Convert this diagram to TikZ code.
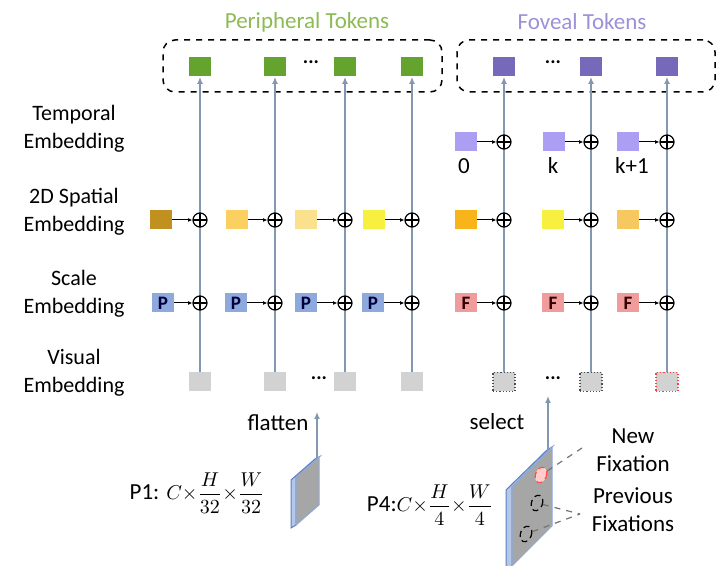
\documentclass[tikz,border=0pt]{standalone}
\usepackage{fontspec}
\setmainfont{Carlito}
\usetikzlibrary{arrows.meta,positioning,calc,shapes.geometric}
\definecolor{tokgreen}{RGB}{99,163,46}
\definecolor{titlegreen}{RGB}{140,186,84}
\definecolor{tokpurple}{RGB}{118,105,185}
\definecolor{titlepurple}{RGB}{155,145,215}
\definecolor{tempurple}{RGB}{172,158,242}
\definecolor{linegray}{RGB}{132,151,176}
\definecolor{scaleblue}{RGB}{142,169,219}
\definecolor{scalered}{RGB}{241,156,156}
\definecolor{visgray}{RGB}{210,210,210}
\definecolor{spdark}{RGB}{192,144,32}
\definecolor{splight}{RGB}{250,208,96}
\definecolor{sppale}{RGB}{251,224,142}
\definecolor{spyellow}{RGB}{248,240,64}
\definecolor{sporange}{RGB}{248,180,24}
\definecolor{spamber}{RGB}{248,200,96}
\definecolor{slabblue}{RGB}{91,127,192}
\definecolor{slabside}{RGB}{180,199,231}
\definecolor{slabgray}{RGB}{166,166,166}
\tikzset{
  tok/.style={minimum width=11pt, minimum height=9.5pt, inner sep=0pt},
  emb/.style={tok, font=\fontsize{9.5}{9.5}\selectfont\bfseries, text=black!75!blue},
  addop/.style={circle, draw, line width=0.6pt, minimum size=7pt, inner sep=0pt,
    path picture={\draw[line width=0.6pt] (path picture bounding box.west) -- (path picture bounding box.east)
      (path picture bounding box.north) -- (path picture bounding box.south);}},
  vline/.style={-{Latex[length=3.5pt,width=3pt]}, linegray, line width=0.8pt},
  earr/.style={-{Latex[length=2.2pt,width=2pt]}, black, line width=0.5pt},
  tokgroup/.style={draw, dashed, line width=0.75pt, rounded corners=6pt, minimum height=26pt, inner sep=0pt},
  rowlab/.style={align=center, font=\fontsize{11}{14}\selectfont},
  lab/.style={align=center, font=\fontsize{11.5}{14}\selectfont},
  dots/.style={font=\fontsize{10}{10}\selectfont\bfseries},
  fixmark/.style={ellipse, draw, densely dashed, line width=0.6pt, minimum width=5.5pt, minimum height=8pt, inner sep=0pt, rotate=-20},
  leader/.style={draw=black!55, dashed, line width=0.6pt},
}
\begin{document}
\begin{tikzpicture}[x=0.5pt, y=-0.5pt]
  \useasboundingbox (0,0) rectangle (718,566);
  % titles and token groups
  \node[lab, text=titlegreen] (ptitle) at (307,22) {Peripheral Tokens};
  \node[lab, text=titlepurple] (ftitle) at (582,22) {Foveal Tokens};
  \node[tokgroup, minimum width=139.5pt] (pgroup) at (302.5,66) {};
  \node[tokgroup, minimum width=129pt] (fgroup) at (586,66) {};
  \node[tok, fill=tokgreen] (p1) at (200,67) {};
  \node[tok, fill=tokgreen] (p2) at (275,67) {};
  \node[dots] (pdots) at (311,62) {...};
  \node[tok, fill=tokgreen] (p3) at (345,67) {};
  \node[tok, fill=tokgreen] (p4) at (412,67) {};
  \node[tok, fill=tokpurple] (f1) at (504,67) {};
  \node[dots] (fdots) at (553,62) {...};
  \node[tok, fill=tokpurple] (f2) at (591,67) {};
  \node[tok, fill=tokpurple] (f3) at (667,67) {};
  % row labels
  \node[rowlab] (ltemp) at (74,129) {Temporal\\Embedding};
  \node[rowlab] (lspat) at (74,212) {2D Spatial\\Embedding};
  \node[rowlab] (lscale) at (74,294) {Scale\\Embedding};
  \node[rowlab] (lvis) at (74,373) {Visual\\Embedding};
  % visual embedding
  \node[tok, fill=visgray] (vp1) at (200,382) {};
  \node[tok, fill=visgray] (vp2) at (275,382) {};
  \node[dots] (vpdots) at (319,378) {...};
  \node[tok, fill=visgray] (vp3) at (345,382) {};
  \node[tok, fill=visgray] (vp4) at (412,382) {};
  \node[tok, fill=visgray, draw=black!70, densely dotted, line width=0.6pt] (vf1) at (504,382) {};
  \node[dots] (vfdots) at (553,378) {...};
  \node[tok, fill=visgray, draw=black!70, densely dotted, line width=0.6pt] (vf2) at (591,382) {};
  \node[tok, fill=visgray, draw=red!75, densely dotted, line width=0.6pt] (vf3) at (667,382) {};
  % columns
  \draw[vline] (vp1) -- (p1);
  \draw[vline] (vp2) -- (p2);
  \draw[vline] (vp3) -- (p3);
  \draw[vline] (vp4) -- (p4);
  \draw[vline] (vf1) -- (f1);
  \draw[vline] (vf2) -- (f2);
  \draw[vline] (vf3) -- (f3);
  % temporal embedding
  \node[tok, fill=tempurple] (t1) at (466,142) {};
  \node[tok, fill=tempurple] (t2) at (554,142) {};
  \node[tok, fill=tempurple] (t3) at (628,142) {};
  \node[addop] (at1) at (504,142) {};
  \node[addop] (at2) at (591,142) {};
  \node[addop] (at3) at (667,142) {};
  \draw[earr] (t1) -- (at1);
  \draw[earr] (t2) -- (at2);
  \draw[earr] (t3) -- (at3);
  \node[lab] (t1lab) at (464,166) {0};
  \node[lab] (t2lab) at (553,166) {k};
  \node[lab] (t3lab) at (632,166) {k+1};
  % 2D spatial embedding
  \node[tok, fill=spdark] (s1) at (161,220) {};
  \node[tok, fill=splight] (s2) at (237,220) {};
  \node[tok, fill=sppale] (s3) at (306,220) {};
  \node[tok, fill=spyellow] (s4) at (374,220) {};
  \node[tok, fill=sporange] (s5) at (466,220) {};
  \node[tok, fill=spyellow] (s6) at (553,220) {};
  \node[tok, fill=spamber] (s7) at (628,220) {};
  \node[addop] (as1) at (200,220) {};
  \node[addop] (as2) at (275,220) {};
  \node[addop] (as3) at (345,220) {};
  \node[addop] (as4) at (412,220) {};
  \node[addop] (as5) at (504,220) {};
  \node[addop] (as6) at (591,220) {};
  \node[addop] (as7) at (667,220) {};
  \draw[earr] (s1) -- (as1);
  \draw[earr] (s2) -- (as2);
  \draw[earr] (s3) -- (as3);
  \draw[earr] (s4) -- (as4);
  \draw[earr] (s5) -- (as5);
  \draw[earr] (s6) -- (as6);
  \draw[earr] (s7) -- (as7);
  % scale embedding
  \node[emb, fill=scaleblue] (c1) at (163,303) {P};
  \node[emb, fill=scaleblue] (c2) at (236,303) {P};
  \node[emb, fill=scaleblue] (c3) at (306,303) {P};
  \node[emb, fill=scaleblue] (c4) at (373,303) {P};
  \node[emb, fill=scalered, text=black!80!red] (c5) at (466,303) {F};
  \node[emb, fill=scalered, text=black!80!red] (c6) at (553,303) {F};
  \node[emb, fill=scalered, text=black!80!red] (c7) at (628,303) {F};
  \node[addop] (ac1) at (200,303) {};
  \node[addop] (ac2) at (275,303) {};
  \node[addop] (ac3) at (345,303) {};
  \node[addop] (ac4) at (412,303) {};
  \node[addop] (ac5) at (504,303) {};
  \node[addop] (ac6) at (591,303) {};
  \node[addop] (ac7) at (667,303) {};
  \draw[earr] (c1) -- (ac1);
  \draw[earr] (c2) -- (ac2);
  \draw[earr] (c3) -- (ac3);
  \draw[earr] (c4) -- (ac4);
  \draw[earr] (c5) -- (ac5);
  \draw[earr] (c6) -- (ac6);
  \draw[earr] (c7) -- (ac7);
  % P1 feature map
  \draw[draw=slabblue, fill=slabside, line width=0.5pt] (296,477) -- (319,457) -- (315,459) -- (291,480) -- (291,528) -- (296,525) -- cycle;
  \draw[draw=scaleblue, fill=slabgray, line width=0.5pt] (296,477) -- (319,457) -- (319,505) -- (296,525) -- cycle;
  \coordinate (p1top) at (317,458);
  \coordinate (p1up) at (317,412);
  \draw[vline] (p1top) -- (p1up);
  \node[lab] (flat) at (278,423) {flatten};
  \node[lab] (p1lab) at (197,493) {P1: \fontsize{10}{12}\selectfont$\displaystyle C{\times}\frac{H}{32}{\times}\frac{W}{32}$};
  % P4 feature map
  \draw[draw=slabblue, fill=slabside, line width=0.5pt] (512,487) -- (552,447) -- (547,450) -- (506,490) -- (506,569) -- (512,566) -- cycle;
  \draw[draw=scaleblue, fill=slabgray, line width=0.5pt] (512,487) -- (552,447) -- (552,526) -- (512,566) -- cycle;
  \coordinate (p4top) at (548,450);
  \coordinate (p4up) at (548,396);
  \draw[vline] (p4top) -- (p4up);
  \node[lab] (sel) at (497,422) {select};
  \node[lab] (p4lab) at (430,505) {P4:\fontsize{10}{12}\selectfont$\displaystyle C{\times}\frac{H}{4}{\times}\frac{W}{4}$};
  % fixations
  \node[fixmark, draw=red!70, fill=red!20] (nfix) at (541,475) {};
  \node[fixmark] (pfix1) at (537,503) {};
  \node[fixmark] (pfix2) at (526,534) {};
  \coordinate (newpt) at (582,448);
  \coordinate (prevpt) at (580,514);
  \draw[leader] (nfix) -- (newpt);
  \draw[leader] (pfix1) -- (prevpt);
  \draw[leader] (pfix2) -- (prevpt);
  \node[lab] (newlab) at (633,450) {New\\Fixation};
  \node[lab] (prevlab) at (633,510) {Previous\\Fixations};
\end{tikzpicture}
\end{document}
